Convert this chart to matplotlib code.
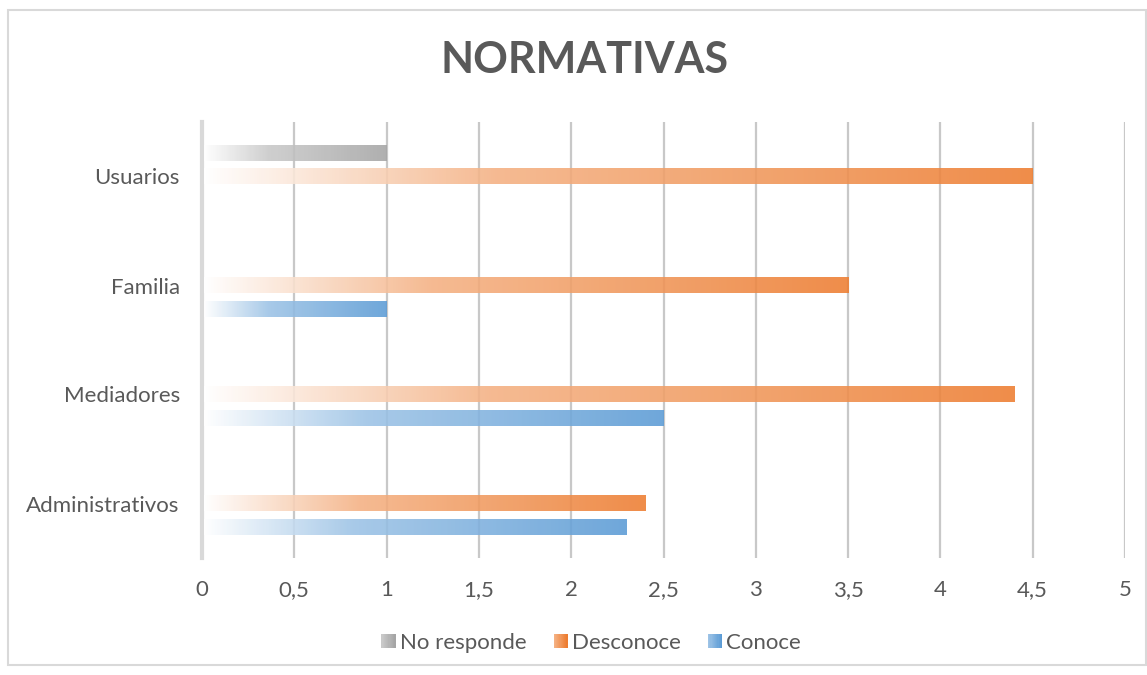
import numpy as np
import matplotlib
matplotlib.use("Agg")
import matplotlib.pyplot as plt
from matplotlib.patches import Rectangle
from matplotlib.legend_handler import HandlerBase
from matplotlib.colors import to_rgb

# datos
categorias = ["Administrativos", "Mediadores", "Familia", "Usuarios"]
conoce = [2.3, 2.5, 1.0, 0.0]
desconoce = [2.4, 4.4, 3.5, 4.5]
no_responde = [0.0, 0.0, 0.0, 1.0]
series = ["Conoce", "Desconoce", "No responde"]
colores = ["#5b9bd5", "#ed7d31", "#a5a5a5"]
xticks = [0, 0.5, 1, 1.5, 2, 2.5, 3, 3.5, 4, 4.5, 5]
xticklabels = ["0", "0,5", "1", "1,5", "2", "2,5", "3", "3,5", "4", "4,5", "5"]

plt.rcParams['font.family'] = ['Lato', 'DejaVu Sans']
gris_texto = "#595959"


def mezcla(t):
    # blanco -> color claro -> color pleno
    return np.where(t < 0.35, t / 0.35 * 0.6, 0.6 + (t - 0.35) / 0.65 * 0.4)


def degradado(color, n=256):
    c = np.array(to_rgb(color))
    t = np.linspace(0, 1, n)
    m = mezcla(t)[:, None]
    rgb = (1 - m) * 1.0 + m * c
    return rgb[None, :, :]


class ManejadorDegradado(HandlerBase):
    def __init__(self, color):
        super().__init__()
        self.color = color

    def create_artists(self, legend, orig_handle, xdescent, ydescent,
                       width, height, fontsize, trans):
        c = np.array(to_rgb(self.color))
        n = 12
        w = height * 0.9
        x0 = width - w
        arts = []
        for i in range(n):
            t = 0.35 + 0.65 * i / (n - 1)
            m = float(mezcla(np.array(t)))
            col = (1 - m) + m * c
            r = Rectangle((x0 + i * w / n, -ydescent + height * 0.05), w / n + 0.3, height * 0.9,
                          facecolor=col, edgecolor='none', transform=trans)
            arts.append(r)
        return arts


fig = plt.figure(figsize=(11.47, 6.75), dpi=100)
ax = fig.add_axes([202 / 1147, 1 - 558 / 675, 923 / 1147, 436 / 675])

# marco exterior
fig.patches.append(Rectangle((8 / 1147, 10 / 675), 1 - 9 / 1147, 1 - 20 / 675,
                             transform=fig.transFigure, fill=False,
                             edgecolor="#d9d9d9", linewidth=1.5))

y = np.arange(len(categorias))
alto = 0.145
desp = 0.215
valores = [conoce, desconoce, no_responde]
for k, vals in enumerate(valores):
    img = degradado(colores[k])
    for i, v in enumerate(vals):
        if v <= 0:
            continue
        yc = y[i] + (k - 1) * desp
        ax.imshow(img, extent=[0.01, v, yc - alto / 2, yc + alto / 2],
                  aspect='auto', interpolation='bilinear', alpha=0.88, zorder=2)

ax.set_xlim(0, 5)
ax.set_ylim(-0.5, 3.5)
ax.set_xticks(xticks)
ax.set_xticklabels(xticklabels)
ax.set_yticks(y)
ax.set_yticklabels(categorias)
ax.xaxis.grid(True, color="#c8c8c8", linewidth=1.6, zorder=1)
ax.set_axisbelow(True)
for s in ["top", "right", "bottom"]:
    ax.spines[s].set_visible(False)
ax.spines["left"].set_color("#d9d9d9")
ax.spines["left"].set_linewidth(3)
ax.spines["left"].set_zorder(1)
ax.tick_params(axis='both', length=0, labelsize=16, labelcolor=gris_texto)
ax.tick_params(axis='x', pad=16)
ax.tick_params(axis='y', pad=16)

fig.text(585 / 1147, 1 - 60 / 675, "NORMATIVAS", ha='center', va='center',
         fontsize=31, fontweight='bold', color=gris_texto)

handles = [Rectangle((0, 0), 1, 1) for _ in range(3)]
orden = [2, 1, 0]
leg = fig.legend([handles[i] for i in orden], [series[i] for i in orden],
                 loc='center', bbox_to_anchor=(590 / 1147, 1 - 643 / 675),
                 ncol=3, frameon=False, fontsize=16, handlelength=0.75,
                 handletextpad=0.2, columnspacing=1.1,
                 handler_map={handles[i]: ManejadorDegradado(colores[i]) for i in range(3)})
for t in leg.get_texts():
    t.set_color(gris_texto)

fig.savefig("out.png", dpi=100)
